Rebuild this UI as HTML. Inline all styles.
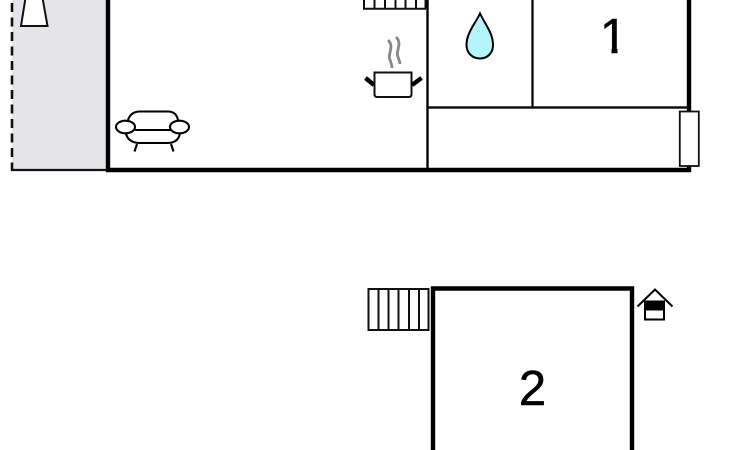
<!DOCTYPE html>
<html>
<head>
<meta charset="utf-8">
<style>
html,body{margin:0;padding:0;background:#fff;width:730px;height:450px;overflow:hidden}
svg{display:block}
text{font-family:"Liberation Sans",sans-serif;fill:#000;stroke:#000;stroke-width:.5px}
</style>
</head>
<body>
<svg width="730" height="450" viewBox="0 0 730 450" xmlns="http://www.w3.org/2000/svg">
<defs>
<clipPath id="c1"><path d="M595 10 H630 V49 H617.500 V56 H611.500 V49 H595 Z"/></clipPath>
</defs>
<!-- terrace -->
<rect x="12" y="0" width="95" height="170" fill="#e4e4e9"/>
<line x1="12" y1="0" x2="12" y2="170" stroke="#111" stroke-width="2.600" stroke-dasharray="9 5.500" stroke-dashoffset="-3"/>
<line x1="11" y1="170" x2="107" y2="170" stroke="#111" stroke-width="2.200"/>
<!-- lamp -->
<path d="M26 -5 L21 26 H47.500 L42 -5" fill="#fff" stroke="#111" stroke-width="2"/>
<!-- main outer walls -->
<path d="M108 0 V170 H689 V0" fill="none" stroke="#000" stroke-width="4.400"/>
<!-- internal walls -->
<line x1="427.500" y1="0" x2="427.500" y2="170" stroke="#000" stroke-width="2.400"/>
<line x1="532.500" y1="0" x2="532.500" y2="107" stroke="#000" stroke-width="2.200"/>
<line x1="427" y1="107.500" x2="688" y2="107.500" stroke="#111" stroke-width="2.400"/>
<!-- door right -->
<rect x="679.800" y="111.500" width="19" height="54.500" fill="#fff" stroke="#111" stroke-width="1.800"/>
<!-- stairs top -->
<path d="M364 -2 V8.800 H426 M374.500 0 V8.800 M385 0 V8.800 M395.500 0 V8.800 M405.500 0 V8.800 M416 0 V8.800 M425.500 0 V8.800" fill="none" stroke="#111" stroke-width="2"/>
<!-- drop -->
<path d="M480 13.500 C475 24 466.500 33 466.500 45 C466.500 53 472.500 58.500 480 58.500 C487.500 58.500 493 53 493 45 C493 33 485 24 480 13.500 Z" fill="#b4f5fb" stroke="#000" stroke-width="2"/>
<!-- steam -->
<path d="M388 40 C395 47 387 54 390 60 C391 63 392 65 392 68" fill="none" stroke="#888" stroke-width="2.800"/>
<path d="M396 37 C403 44 395 51 398 57 C399 60 400 62 400 64" fill="none" stroke="#888" stroke-width="2.800"/>
<!-- pot -->
<path d="M374.500 72.500 H411.500 V94 Q411.500 97 409 97 H377 Q374.500 97 374.500 94 Z" fill="#fff" stroke="#111" stroke-width="2"/>
<path d="M365.500 78 L374 85 M421.500 78 L412 85" stroke="#000" stroke-width="4.400" fill="none"/>
<!-- sofa -->
<g fill="none" stroke="#000" stroke-width="2.100">
<path d="M128 120 C130 114 134 111.500 140 111.500 H168 C174 111.500 177 115 178 120"/>
<path d="M135 130 H171"/>
<path d="M126 133 C127 140 133 143 140 143 H167 C174 143 179 140 180 133"/>
<ellipse cx="125.500" cy="127" rx="9.500" ry="6.300" fill="#fff"/>
<ellipse cx="179.500" cy="127" rx="9.500" ry="6.300" fill="#fff"/>
<path d="M137 144 L134.500 151.500 M171 144 L173.500 151.500"/>
</g>
<!-- labels -->
<text x="613.500" y="53" font-size="49" text-anchor="middle" clip-path="url(#c1)">1</text>
<text x="532.500" y="405" font-size="49" text-anchor="middle">2</text>
<!-- building 2 -->
<path d="M433 450 V288.500 H632 V450" fill="none" stroke="#000" stroke-width="4.400"/>
<!-- stairs bottom -->
<rect x="368.500" y="289" width="60" height="41" fill="#fff" stroke="#111" stroke-width="2"/>
<path d="M378.500 289 V330 M388.500 289 V330 M398.500 289 V330 M409 289 V330 M419 289 V330" stroke="#111" stroke-width="2" fill="none"/>
<!-- small house icon -->
<path d="M637.500 306.500 L655 289.500 L672.500 306.500" fill="none" stroke="#000" stroke-width="2"/>
<rect x="645" y="301.500" width="19" height="18" fill="#fff" stroke="#000" stroke-width="2"/>
<rect x="645" y="301.500" width="19" height="9" fill="#000"/>
</svg>
</body>
</html>
